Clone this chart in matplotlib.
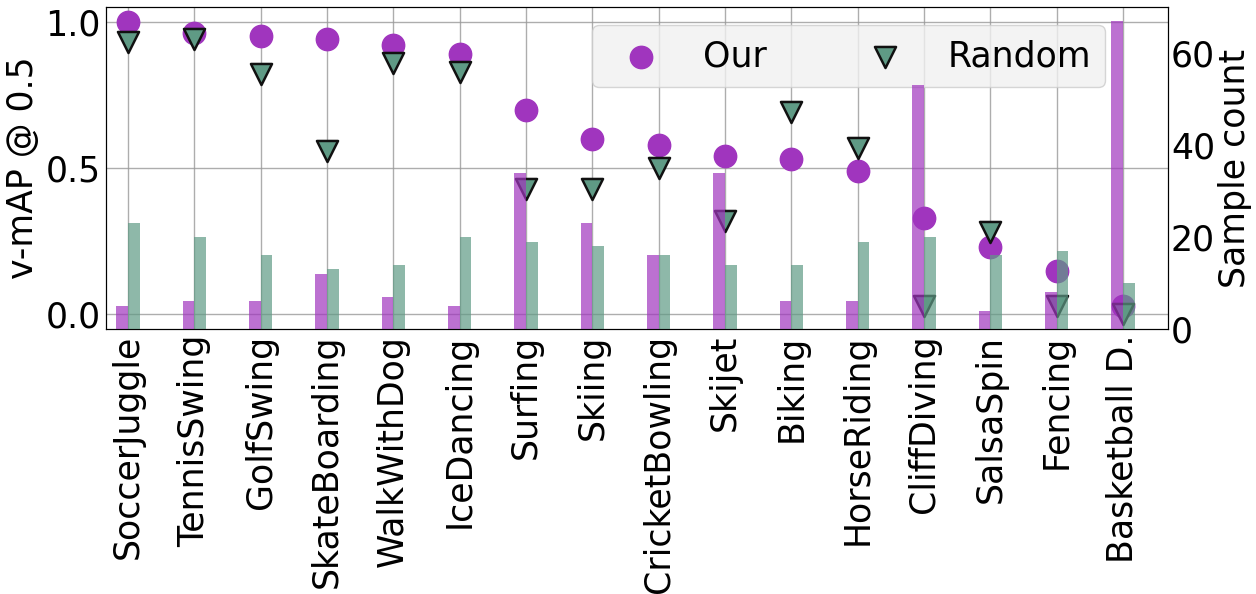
import matplotlib; matplotlib.use("Agg")
import matplotlib.pyplot as plt
import numpy as np

# classes sorted by our v-mAP
classes = ["SoccerJuggle", "TennisSwing", "GolfSwing", "SkateBoarding", "WalkWithDog", "IceDancing",
           "Surfing", "Skiing", "CricketBowling", "Skijet", "Biking", "HorseRiding",
           "CliffDiving", "SalsaSpin", "Fencing", "Basketball D."]
vmap_our = [1.00, 0.96, 0.95, 0.94, 0.92, 0.89, 0.70, 0.60, 0.58, 0.54, 0.53, 0.49, 0.33, 0.23, 0.15, 0.03]
vmap_rand = [0.93, 0.94, 0.82, 0.56, 0.86, 0.83, 0.43, 0.43, 0.50, 0.32, 0.69, 0.57, 0.03, 0.28, 0.03, 0.00]
cnt_our = [5, 6, 6, 12, 7, 5, 34, 23, 16, 34, 6, 6, 53, 4, 8, 67]
cnt_rand = [23, 20, 16, 13, 14, 20, 19, 18, 16, 14, 14, 19, 20, 16, 17, 10]

C_OUR = "#a035be"; C_RND = "#5f9a85"
plt.rcParams["font.size"] = 25

fig = plt.figure(figsize=(12.56, 5.94), dpi=100)
ax = fig.add_axes([0.0844, 0.446, 0.8456, 0.542])
x = np.arange(len(classes))

ax.scatter(x, vmap_our, s=260, color=C_OUR, marker="o", label="Our", zorder=3)
ax.scatter(x, vmap_rand, s=230, color=C_RND, marker="v", edgecolors="#111", linewidths=1.8, label="Random", zorder=3)
ax.set_ylim(-0.05, 1.05); ax.set_yticks([0.0, 0.5, 1.0])
ax.set_ylabel("v-mAP @ 0.5", labelpad=4)
ax.set_xticks(x); ax.set_xticklabels(classes, rotation=90)
ax.tick_params(length=0, pad=4)
ax.grid(True, color="#999", lw=1, alpha=0.8)
ax.set_axisbelow(True)

# sample counts on the right axis, drawn over the markers
ax2 = ax.twinx()
w = 0.175
ax2.bar(x - w / 2, cnt_our, width=w, color=C_OUR, alpha=0.7)
ax2.bar(x + w / 2, cnt_rand, width=w, color=C_RND, alpha=0.7)
ax2.set_ylim(0, 70); ax2.set_yticks([0, 20, 40, 60])
ax2.tick_params(length=0, pad=2)
ax2.set_ylabel("Sample count", labelpad=2)
ax.set_xlim(-0.33, 15.68)

leg = ax.legend(loc="upper right", bbox_to_anchor=(0.9407, 0.944), borderaxespad=0, ncol=2,
                fontsize=25, columnspacing=2.4, facecolor="#f0f0f0", framealpha=0.8)
fig.savefig("out.png", dpi=100)
